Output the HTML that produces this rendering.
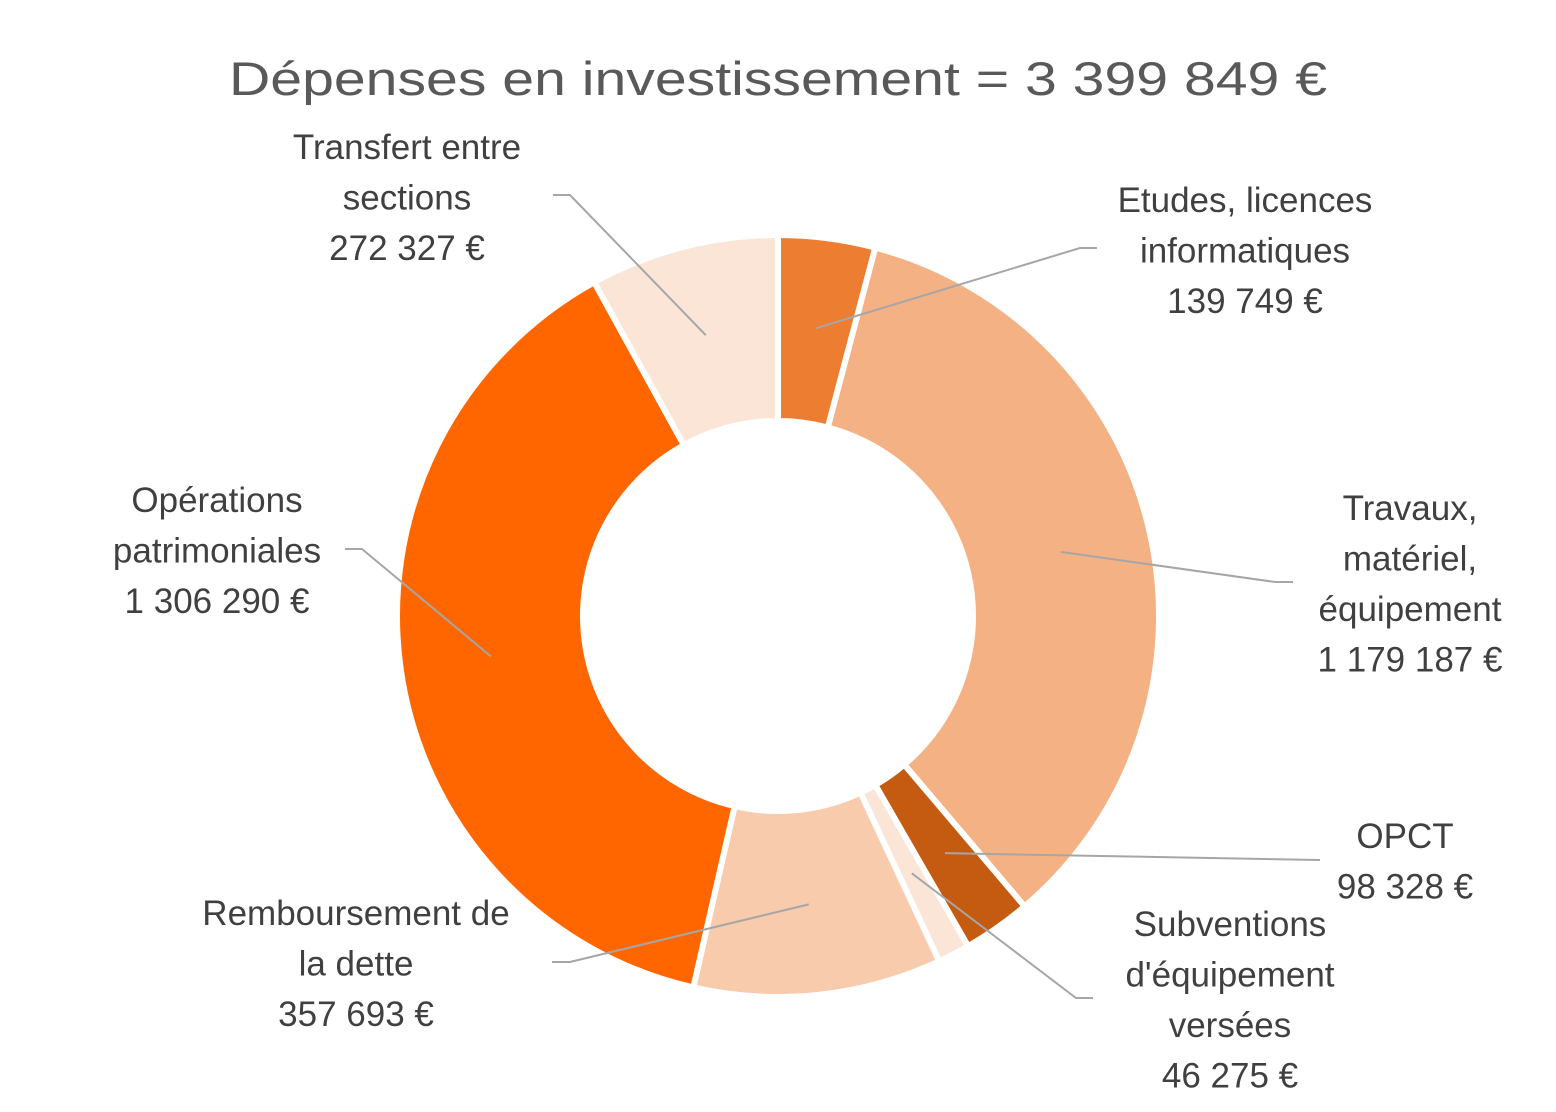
<!DOCTYPE html>
<html><head><meta charset="utf-8">
<style>
html,body{margin:0;padding:0;background:#fff;}
svg{display:block;font-family:"Liberation Sans",sans-serif;}
</style></head>
<body>
<svg id="chart" width="1556" height="1112" viewBox="0 0 1556 1112">
<text x="778" y="95" text-anchor="middle" font-size="47" fill="#595959" textLength="1098" lengthAdjust="spacingAndGlyphs">Dépenses en investissement = 3 399 849 €</text>
<g id="slices"></g>
<g id="leaders"></g>
<g id="labels"></g>
</svg>
<script>
const categories = ["Etudes, licences informatiques","Travaux, matériel, équipement","OPCT","Subventions d'équipement versées","Remboursement de la dette","Opérations patrimoniales","Transfert entre sections"];
const values = [139749, 1179187, 98328, 46275, 357693, 1306290, 272327];
const valueLabels = ["139 749 €","1 179 187 €","98 328 €","46 275 €","357 693 €","1 306 290 €","272 327 €"];
const colors = ["#ED7D31","#F4B183","#C55A11","#FBE5D6","#F8CBAD","#FF6600","#FBE5D6"];
const labelLines = [["Etudes, licences","informatiques"],["Travaux,","matériel,","équipement"],["OPCT"],["Subventions","d'équipement","versées"],["Remboursement de","la dette"],["Opérations","patrimoniales"],["Transfert entre","sections"]];
const labelPos = [[1245,212],[1410,520],[1405,848],[1230,936],[356,925],[217,512],[407,159]];
const leaderEnd = [[1097,248,1080,248],[1293,582,1275,582],[1320,860,1320,860],[1093,998,1076,998],[552,962,570,962],[345,549,362,549],[553,195,570,195]];

const NS="http://www.w3.org/2000/svg";
const cx=778, cy=616, rOut=381, rIn=195, rLead=290;
const total=values.reduce((a,b)=>a+b,0);
function pt(r,a){return [cx+r*Math.sin(a), cy-r*Math.cos(a)];}
const gS=document.getElementById('slices'), gL=document.getElementById('leaders'), gT=document.getElementById('labels');
let acc=0;
values.forEach((v,i)=>{
  const a0=acc/total*2*Math.PI; acc+=v; const a1=acc/total*2*Math.PI;
  const large=(a1-a0)>Math.PI?1:0;
  const p0=pt(rOut,a0),p1=pt(rOut,a1),q1=pt(rIn,a1),q0=pt(rIn,a0);
  const path=document.createElementNS(NS,'path');
  path.setAttribute('d',`M${p0[0]},${p0[1]} A${rOut},${rOut} 0 ${large} 1 ${p1[0]},${p1[1]} L${q1[0]},${q1[1]} A${rIn},${rIn} 0 ${large} 0 ${q0[0]},${q0[1]} Z`);
  path.setAttribute('fill',colors[i]);
  path.setAttribute('stroke','#fff');
  path.setAttribute('stroke-width','6');
  
  
  gS.appendChild(path);
  const am=(a0+a1)/2, m=pt(rLead,am), e=leaderEnd[i];
  const pl=document.createElementNS(NS,'polyline');
  pl.setAttribute('points',`${e[0]},${e[1]} ${e[2]},${e[3]} ${m[0]},${m[1]}`);
  pl.setAttribute('fill','none');
  pl.setAttribute('stroke','#A6A6A6');
  pl.setAttribute('stroke-width','2');
  
  
  gL.appendChild(pl);
  const t=document.createElementNS(NS,'text');
  t.setAttribute('text-anchor','middle');
  t.setAttribute('font-size','35');
  t.setAttribute('fill','#404040');
  
  
  const lines=labelLines[i].concat([valueLabels[i]]);
  lines.forEach((ln,k)=>{
    const ts=document.createElementNS(NS,'tspan');
    ts.setAttribute('x',labelPos[i][0]);
    ts.setAttribute('y',labelPos[i][1]+k*50.5);
    ts.textContent=ln;
    t.appendChild(ts);
  });
  gT.appendChild(t);
});
</script>
</body></html>
